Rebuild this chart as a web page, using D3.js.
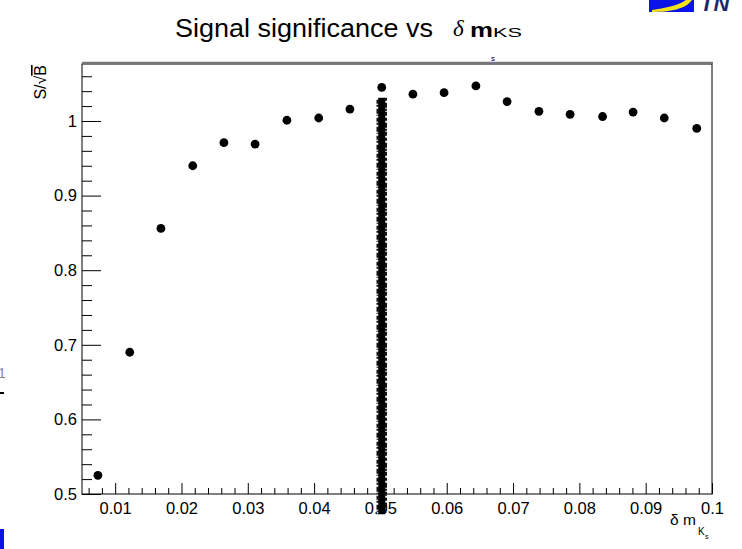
<!DOCTYPE html>
<html>
<head>
<meta charset="utf-8">
<script src="https://cdn.jsdelivr.net/npm/d3@7"></script>
<style>
  body { margin: 0; background: #fff; }
  svg { display: block; font-family: "Liberation Sans", Arial, Helvetica, sans-serif; }
</style>
</head>
<body>
<div class="container"></div>
<script>
var w = 742;
var h = 549;

// cut value δm_KS and S/sqrt(B)
const cutValues = [0.0074, 0.0122, 0.0169, 0.0217, 0.0264, 0.0311, 0.0359, 0.0407, 0.0454, 0.0502,
  0.0549, 0.0596, 0.0644, 0.0691, 0.0739, 0.0786, 0.0835, 0.0881, 0.0928, 0.0977];
const significance = [0.525, 0.690, 0.856, 0.940, 0.971, 0.969, 1.001, 1.004, 1.016, 1.045,
  1.036, 1.038, 1.047, 1.026, 1.013, 1.009, 1.006, 1.012, 1.004, 0.990];

// the dense vertical band of markers at δm = 0.05
const bandX = 0.0502;
const bandRange = [1.031, 0.473];

const xTicks = [0.01, 0.02, 0.03, 0.04, 0.05, 0.06, 0.07, 0.08, 0.09, 0.1];
const xTickLabels = ["0.01", "0.02", "0.03", "0.04", "0.05", "0.06", "0.07", "0.08", "0.09", "0.1"];
const yTicks = [0.5, 0.6, 0.7, 0.8, 0.9, 1.0];
const yTickLabels = ["0.5", "0.6", "0.7", "0.8", "0.9", "1"];

// frame edges in px (note: "top" is reserved on window, so plotTop)
var plotLeft = 82, plotRight = 712, plotTop = 64, plotBottom = 494;

var svg = d3.select(".container")
  .append("svg")
  .attr("width", w)
  .attr("height", h)
  .attr("viewBox", `0 0 ${w} ${h}`);

var xScale = d3.scaleLinear().domain([0.005, 0.1]).range([plotLeft, plotRight]);
var yScale = d3.scaleLinear().domain([0.5, 1.0764]).range([plotBottom, plotTop]);

// frame
svg.append("rect")
  .attr("x", plotLeft).attr("y", plotTop)
  .attr("width", plotRight - plotLeft).attr("height", plotBottom - plotTop)
  .attr("fill", "none").attr("stroke", "#000").attr("stroke-width", 1);
svg.append("line")
  .attr("x1", plotLeft).attr("x2", plotRight + 1)
  .attr("y1", plotTop - 1).attr("y2", plotTop - 1)
  .attr("stroke", "#777").attr("stroke-width", 2.5);

// x axis, ticks pointing inward
var xMinor = d3.range(0.006, 0.1, 0.002).filter(v => Math.abs(v * 100 - Math.round(v * 100)) > 1e-6);
var xAxis = d3.axisBottom(xScale)
  .tickValues(xTicks)
  .tickFormat((d, i) => xTickLabels[i])
  .tickSize(-11)
  .tickPadding(8);
svg.append("g").attr("transform", `translate(0,${plotBottom})`).call(xAxis);
svg.append("g").attr("transform", `translate(0,${plotBottom})`)
  .call(d3.axisBottom(xScale).tickValues(xMinor).tickFormat("").tickSize(-6));

// y axis
var yMinor = d3.range(0.52, 1.075, 0.02).filter(v => Math.abs(v * 10 - Math.round(v * 10)) > 1e-6);
var yAxis = d3.axisLeft(yScale)
  .tickValues(yTicks)
  .tickFormat((d, i) => yTickLabels[i])
  .tickSize(-19)
  .tickPadding(5);
svg.append("g").attr("transform", `translate(${plotLeft},0)`).call(yAxis);
svg.append("g").attr("transform", `translate(${plotLeft},0)`)
  .call(d3.axisLeft(yScale).tickValues(yMinor).tickFormat("").tickSize(-10));

svg.selectAll(".domain").remove();
svg.selectAll(".tick line").attr("stroke", "#000");
svg.selectAll(".tick text")
  .attr("fill", "#000")
  .attr("font-size", "16.5px")
  .attr("font-family", "'Liberation Sans', Arial, sans-serif");

// the band: solid core with ragged edges
var bx = xScale(bandX);
var by1 = yScale(bandRange[0]), by2 = yScale(bandRange[1]);
svg.append("line")
  .attr("x1", bx).attr("x2", bx).attr("y1", by1).attr("y2", by2)
  .attr("stroke", "#000").attr("stroke-width", 7);
svg.append("line")
  .attr("x1", bx - 4).attr("x2", bx - 4).attr("y1", by1 + 2).attr("y2", by2)
  .attr("stroke", "#111").attr("stroke-width", 2.5)
  .attr("stroke-dasharray", "4 1 2 2 5 1 1 2");
svg.append("line")
  .attr("x1", bx + 4).attr("x2", bx + 4).attr("y1", by1).attr("y2", by2 - 2)
  .attr("stroke", "#111").attr("stroke-width", 2.5)
  .attr("stroke-dasharray", "3 2 5 1 2 1 4 2");

// points
svg.selectAll("circle.pt")
  .data(cutValues)
  .enter()
  .append("circle")
  .attr("class", "pt")
  .attr("cx", d => xScale(d))
  .attr("cy", (d, i) => yScale(significance[i]))
  .attr("r", 4.4)
  .attr("fill", "#000");

// title
svg.append("text")
  .attr("x", 175).attr("y", 37)
  .attr("font-size", "26.5px")
  .attr("fill", "#000")
  .attr("textLength", 258).attr("lengthAdjust", "spacingAndGlyphs")
  .text("Signal significance vs");
svg.append("text")
  .attr("x", 453).attr("y", 36)
  .attr("font-family", "'Liberation Serif', 'Times New Roman', serif")
  .attr("font-style", "italic")
  .attr("font-size", "23px")
  .text("δ");
svg.append("text")
  .attr("x", 470).attr("y", 37)
  .attr("font-size", "20px")
  .attr("font-weight", "bold")
  .attr("textLength", 23).attr("lengthAdjust", "spacingAndGlyphs")
  .text("m");
svg.append("text")
  .attr("x", 493).attr("y", 37)
  .attr("font-size", "12px")
  .attr("textLength", 29).attr("lengthAdjust", "spacingAndGlyphs")
  .text("KS");
svg.append("text")
  .attr("x", 491).attr("y", 61)
  .attr("font-size", "8px")
  .text("s");

// y title S/√B
var yt = svg.append("text")
  .attr("transform", "translate(46,65) rotate(-90)")
  .attr("text-anchor", "end")
  .attr("font-size", "16px");
yt.append("tspan").text("S/√");
yt.append("tspan").style("text-decoration", "overline").text("B");

// x title δ m_Ks
svg.append("text")
  .attr("x", 670).attr("y", 525)
  .attr("font-size", "15.5px")
  .text("δ m");
svg.append("text")
  .attr("x", 698).attr("y", 535)
  .attr("font-size", "10px")
  .text("K");
svg.append("text")
  .attr("x", 705).attr("y", 539)
  .attr("font-size", "7px")
  .text("s");

// leftover pieces at the picture edges
svg.append("rect").attr("x", 649).attr("y", 0).attr("width", 45).attr("height", 12).attr("fill", "#0a14e6");
svg.append("path")
  .attr("d", "M652,10 C664,8 678,6 686,0 L692,0 C686,9 670,12 652,12 Z")
  .attr("fill", "#f2e21a");
svg.append("text")
  .attr("x", 700).attr("y", 11)
  .attr("font-size", "22px")
  .attr("font-weight", "bold")
  .attr("font-style", "italic")
  .attr("fill", "#1a2a6e")
  .text("TN");
svg.append("text")
  .attr("x", -2).attr("y", 378)
  .attr("font-size", "14px")
  .attr("fill", "#888")
  .text("1");
svg.append("rect").attr("x", 0).attr("y", 392).attr("width", 4).attr("height", 2).attr("fill", "#000");
svg.append("rect").attr("x", 0).attr("y", 529).attr("width", 4).attr("height", 20).attr("fill", "#0a14e6");
</script>
</body>
</html>
